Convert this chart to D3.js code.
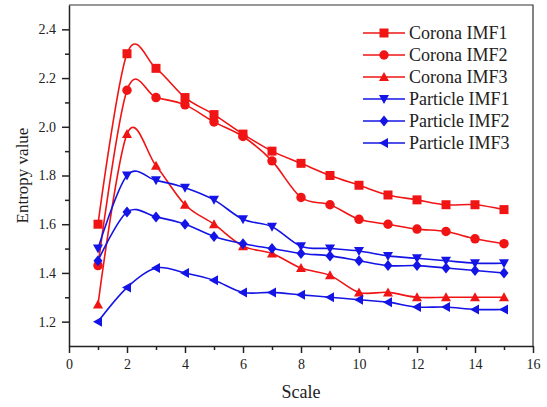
<!DOCTYPE html>
<html>
<head>
<meta charset="utf-8">
<script src="https://cdn.jsdelivr.net/npm/d3@7"></script>
<style>
  body { margin: 0; background: #fff; }
</style>
</head>
<body>
<div id="chart"></div>
<script>
  // Data
  const scales = d3.range(1, 16);
  const coronaIMF1 = [1.60, 2.30, 2.24, 2.12, 2.05, 1.97, 1.90, 1.85, 1.80, 1.76, 1.72, 1.70, 1.68, 1.68, 1.66];
  const coronaIMF2 = [1.43, 2.15, 2.12, 2.09, 2.02, 1.96, 1.86, 1.71, 1.68, 1.62, 1.60, 1.58, 1.57, 1.54, 1.52];
  const coronaIMF3 = [1.27, 1.97, 1.84, 1.68, 1.60, 1.51, 1.48, 1.42, 1.39, 1.32, 1.32, 1.30, 1.30, 1.30, 1.30];
  const particleIMF1 = [1.50, 1.80, 1.78, 1.75, 1.70, 1.62, 1.59, 1.51, 1.50, 1.49, 1.47, 1.46, 1.45, 1.44, 1.44];
  const particleIMF2 = [1.45, 1.65, 1.63, 1.60, 1.55, 1.52, 1.50, 1.48, 1.47, 1.45, 1.43, 1.43, 1.42, 1.41, 1.40];
  const particleIMF3 = [1.20, 1.34, 1.42, 1.40, 1.37, 1.32, 1.32, 1.31, 1.30, 1.29, 1.28, 1.26, 1.26, 1.25, 1.25];

  const red = "#f01414", blue = "#1414e6";
  const serif = "Times New Roman, Liberation Serif, Times, DejaVu Serif, serif";

  const series = [
    { name: "Corona IMF1", values: coronaIMF1, color: red, marker: "square" },
    { name: "Corona IMF2", values: coronaIMF2, color: red, marker: "circle" },
    { name: "Corona IMF3", values: coronaIMF3, color: red, marker: "up" },
    { name: "Particle IMF1", values: particleIMF1, color: blue, marker: "down" },
    { name: "Particle IMF2", values: particleIMF2, color: blue, marker: "diamond" },
    { name: "Particle IMF3", values: particleIMF3, color: blue, marker: "left" }
  ];

  const width = 547, height = 407;
  const margin = { top: 5, right: 14, bottom: 61, left: 69 };

  const svg = d3.select("#chart").append("svg")
    .attr("width", width)
    .attr("height", height)
    .attr("font-family", serif);

  const x = d3.scaleLinear().domain([0, 16]).range([margin.left, width - margin.right]);
  const y = d3.scaleLinear().domain([1.1, 2.5]).range([height - margin.bottom, margin.top]);

  // frame (top + right)
  svg.append("path")
    .attr("d", `M${x(0)},${y(2.5)}H${x(16)}V${y(1.1)}`)
    .attr("fill", "none")
    .attr("stroke", "#333")
    .attr("stroke-width", 1.2);

  // minor ticks
  svg.append("g")
    .attr("transform", `translate(0,${y(1.1)})`)
    .call(d3.axisBottom(x).tickValues(d3.range(1, 16, 2)).tickSize(4).tickFormat(""))
    .call(g => g.select(".domain").remove());
  svg.append("g")
    .attr("transform", `translate(${x(0)},0)`)
    .call(d3.axisLeft(y).tickValues(d3.range(1.3, 2.5, 0.2)).tickSize(4).tickFormat(""))
    .call(g => g.select(".domain").remove());

  // major axes
  const xAxis = svg.append("g")
    .attr("transform", `translate(0,${y(1.1)})`)
    .call(d3.axisBottom(x).tickValues(d3.range(0, 17, 2)).tickSize(7).tickPadding(6).tickSizeOuter(0));
  const yAxis = svg.append("g")
    .attr("transform", `translate(${x(0)},0)`)
    .call(d3.axisLeft(y).tickValues(d3.range(1.2, 2.45, 0.2)).tickFormat(d3.format(".1f")).tickSize(7).tickPadding(6).tickSizeOuter(0));

  [xAxis, yAxis].forEach(g => {
    g.attr("font-family", serif).attr("font-size", 14);
    g.selectAll("line, path").attr("stroke", "#222").attr("stroke-width", 1.5);
    g.selectAll("text").attr("fill", "#222");
  });
  svg.selectAll(".tick line").attr("stroke", "#222").attr("stroke-width", 1.5);

  // axis titles
  svg.append("text")
    .attr("x", x(8))
    .attr("y", 398)
    .attr("text-anchor", "middle")
    .attr("font-size", 18)
    .attr("fill", "#222")
    .text("Scale");
  svg.append("text")
    .attr("transform", `translate(28,${(y(1.1) + y(2.5)) / 2}) rotate(-90)`)
    .attr("text-anchor", "middle")
    .attr("font-size", 17)
    .attr("fill", "#222")
    .text("Entropy value");

  // markers
  function markerPath(type) {
    const s = 4.5;
    switch (type) {
      case "square": return `M${-s},${-s}h${2 * s}v${2 * s}h${-2 * s}Z`;
      case "circle": return d3.symbol(d3.symbolCircle, 70)();
      case "up": return `M0,${-s - 0.5}L${s + 0.5},${s - 0.5}L${-s - 0.5},${s - 0.5}Z`;
      case "down": return `M0,${s + 0.5}L${s + 0.5},${-s + 0.5}L${-s - 0.5},${-s + 0.5}Z`;
      case "diamond": return `M0,${-s - 1}L${s},0L0,${s + 1}L${-s},0Z`;
      case "left": return `M${-s - 0.5},0L${s - 0.5},${-s - 0.5}L${s - 0.5},${s + 0.5}Z`;
    }
  }

  const line = d3.line()
    .x((d, i) => x(scales[i]))
    .y(d => y(d))
    .curve(d3.curveCatmullRom.alpha(0));

  const plot = svg.append("g");
  series.forEach(s => {
    plot.append("path")
      .datum(s.values)
      .attr("d", line)
      .attr("fill", "none")
      .attr("stroke", s.color)
      .attr("stroke-width", 1.6);
    plot.selectAll(null)
      .data(s.values)
      .enter()
      .append("path")
      .attr("transform", (d, i) => `translate(${x(scales[i])},${y(d)})`)
      .attr("d", markerPath(s.marker))
      .attr("fill", s.color);
  });

  // legend
  const legend = svg.append("g").attr("transform", "translate(363,33)");
  series.forEach((s, i) => {
    const row = legend.append("g").attr("transform", `translate(0,${i * 22})`);
    row.append("line")
      .attr("x1", 0).attr("x2", 42)
      .attr("stroke", s.color)
      .attr("stroke-width", 1.6);
    row.append("path")
      .attr("transform", "translate(21,0)")
      .attr("d", markerPath(s.marker))
      .attr("fill", s.color);
    row.append("text")
      .attr("x", 46)
      .attr("y", 6)
      .attr("font-size", 18)
      .attr("fill", "#222")
      .text(s.name);
  });
</script>
</body>
</html>
